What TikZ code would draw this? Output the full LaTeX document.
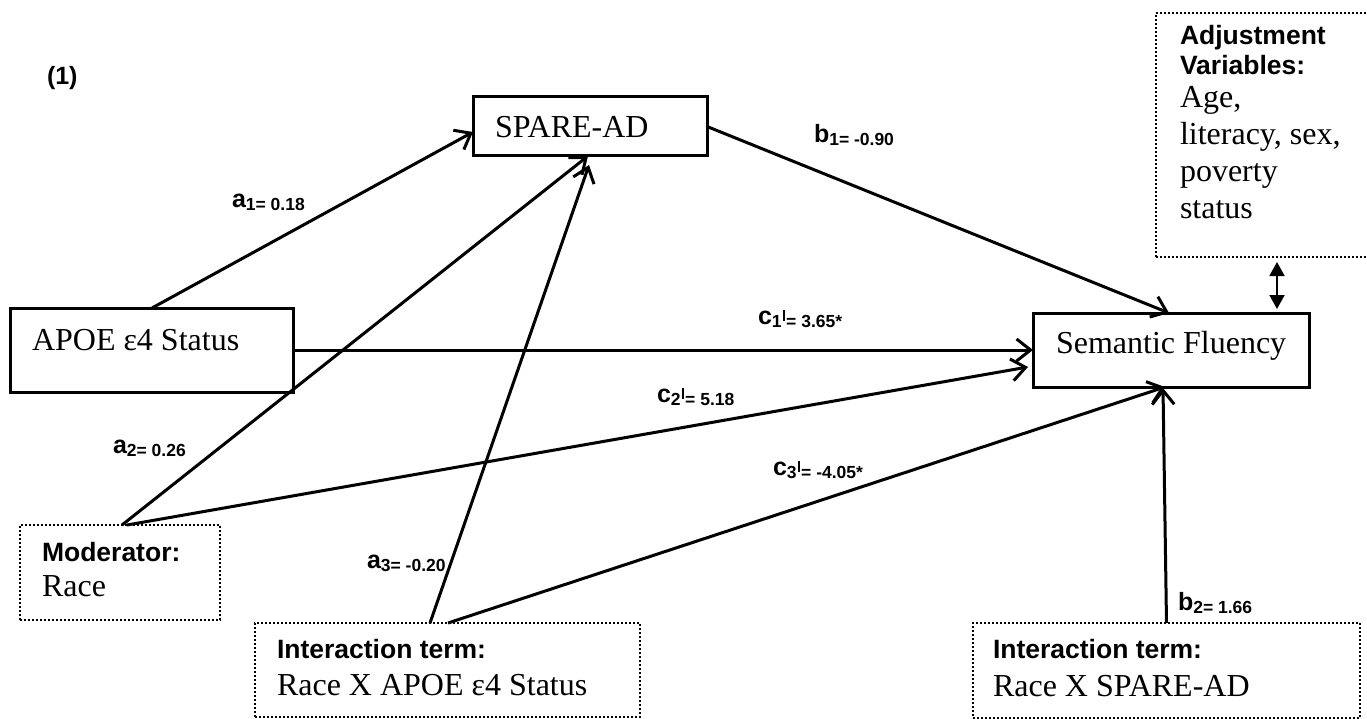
\documentclass[tikz,border=0pt]{standalone}
\usepackage{fontspec}
\setmainfont{Liberation Serif}
\newfontfamily\lblfont{Liberation Sans}
\usetikzlibrary{arrows.meta}
\newcommand\serifbig{\rmfamily\fontsize{32}{36}\selectfont}
\newcommand\boldsf{\lblfont\bfseries\fontsize{26.5}{30}\selectfont}
\newcommand\lblbig{\lblfont\bfseries\fontsize{25}{28}\selectfont}
\newcommand\lblsmall{\lblfont\bfseries\fontsize{17.5}{20}\selectfont}
\newcommand\plab[2]{{\lblbig #1}\raisebox{-3pt}{\lblsmall #2}}
\newcommand\clab[2]{{\lblbig c}\raisebox{-3pt}{\lblsmall #1}\kern1pt\raisebox{3.5pt}{\rule{2.6pt}{10.5pt}}\kern1pt\raisebox{-3pt}{\lblsmall #2}}
\tikzset{
  every node/.style={inner sep=0pt, outer sep=0pt},
  solidbox/.style={draw, line width=3pt, rectangle},
  dotbox/.style={draw, line width=2.4pt, dash pattern=on 2pt off 2pt, rectangle},
  txt/.style={anchor=base west, inner sep=0pt},
  arr/.style={line width=3pt, -{Straight Barb[length=14pt,width=22pt]}},
  dbl/.style={line width=1.8pt, {Triangle[length=14pt,width=15pt]}-{Triangle[length=14pt,width=15pt]}, shorten <=5pt, shorten >=4pt},
}
\begin{document}
\begin{tikzpicture}[x=1pt,y=-1pt]
\useasboundingbox (0,0) rectangle (1367,719);
% boxes
\node[solidbox, minimum width=234pt, minimum height=59pt] (spare) at (590,126.5) {};
\node[solidbox, minimum width=283pt, minimum height=84pt] (apoe) at (151.5,350) {};
\node[solidbox, minimum width=276pt, minimum height=74pt] (sf) at (1171,350) {};
\node[dotbox, minimum width=219pt, minimum height=244pt] (adj) at (1265.5,135) {};
\node[dotbox, minimum width=200pt, minimum height=95pt] (mod) at (120,572.5) {};
\node[dotbox, minimum width=385pt, minimum height=94pt] (int1) at (447.5,670) {};
\node[dotbox, minimum width=387pt, minimum height=95pt] (int2) at (1166.5,670.5) {};
% texts
\node[txt] (title) at (47,85) {\lblbig (1)};
\node[txt] (sparet) at (495,138) {\serifbig SPARE-AD};
\node[txt] (apoet) at (32,350) {\serifbig APOE ε4 Status};
\node[txt] (sft) at (1056,353) {\serifbig Semantic Fluency};
\node[txt] (adj1) at (1180,45) {\boldsf Adjustment};
\node[txt] (adj2) at (1180,75) {\boldsf Variables:};
\node[txt] (adj3) at (1180,108) {\serifbig Age,};
\node[txt] (adj4) at (1180,145) {\serifbig literacy, sex,};
\node[txt] (adj5) at (1180,182) {\serifbig poverty};
\node[txt] (adj6) at (1180,219) {\serifbig status};
\node[txt] (mod1) at (42,561) {\boldsf Moderator:};
\node[txt] (mod2) at (42,596) {\serifbig Race};
\node[txt] (int1a) at (277,658) {\boldsf Interaction term:};
\node[txt] (int1b) at (277,695) {\serifbig Race X APOE ε4 Status};
\node[txt] (int2a) at (993,658) {\boldsf Interaction term:};
\node[txt] (int2b) at (993,696) {\serifbig Race X SPARE-AD};
% labels
\node[txt] (la1) at (232,208) {\plab{a}{1= 0.18}};
\node[txt] (lb1) at (814,143) {\plab{b}{1= -0.90}};
\node[txt] (lc1) at (758,324) {\clab{1}{= 3.65*}};
\node[txt] (lc2) at (657,402) {\clab{2}{= 5.18}};
\node[txt] (lc3) at (773,475) {\clab{3}{= -4.05*}};
\node[txt] (la2) at (113,453) {\plab{a}{2= 0.26}};
\node[txt] (la3) at (367,568) {\plab{a}{3= -0.20}};
\node[txt] (lb2) at (1178,610) {\plab{b}{2= 1.66}};
% connectors
\draw[arr] ([xshift=142pt]apoe.north west) -- ([yshift=-5.5pt]spare.west);
\draw[arr] ([xshift=102pt]mod.north west) -- ([xshift=-2pt]spare.south);
\draw[arr] ([xshift=175pt]int1.north west) -- ([xshift=-1pt,yshift=-9pt]spare.south);
\draw[arr] (spare.east) -- ([xshift=-2pt]sf.north);
\draw[arr] (apoe.east) -- (sf.west);
\draw[arr] ([xshift=107pt]mod.north west) -- ([xshift=-5pt,yshift=-17pt]sf.west);
\draw[arr] ([xshift=193pt]int1.north west) -- ([xshift=-6pt]sf.south);
\draw[arr] (int2.north) -- ([xshift=-8pt,yshift=-1pt]sf.south);
\draw[dbl] ([xshift=121pt]adj.south west) -- ([xshift=-32pt]sf.north east);
\end{tikzpicture}
\end{document}
